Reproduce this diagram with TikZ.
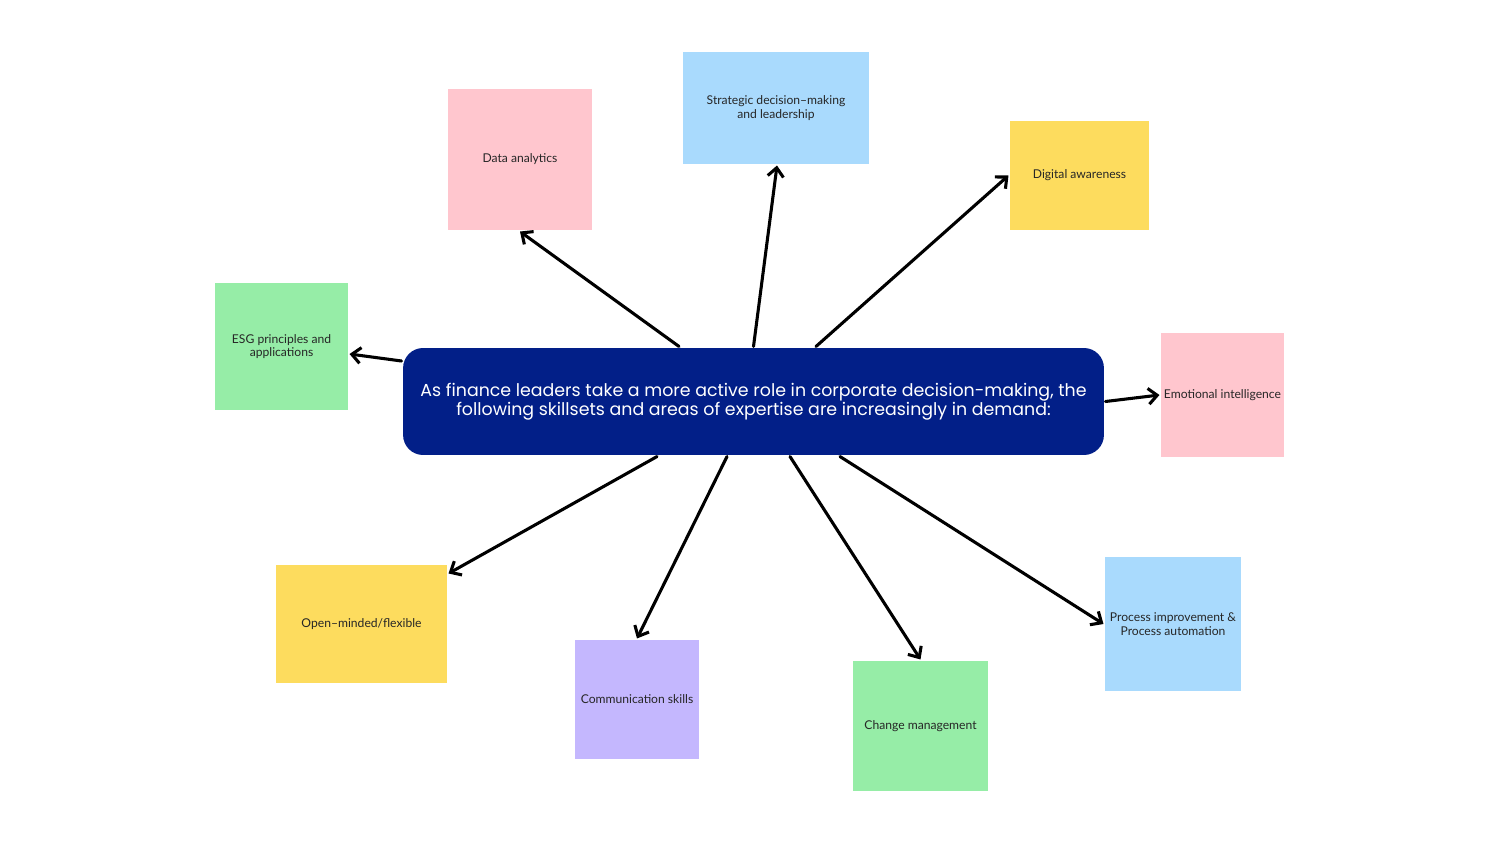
\documentclass[tikz,border=0pt]{standalone}
\usepackage{fontspec}
\setmainfont{Poppins}
\newfontfamily\notefont{Lato}
\usetikzlibrary{arrows.meta}
\definecolor{navy}{HTML}{021F88}
\definecolor{pinknote}{HTML}{FFC6CE}
\definecolor{bluenote}{HTML}{A9DAFD}
\definecolor{yellownote}{HTML}{FDDC5E}
\definecolor{greennote}{HTML}{96EDA7}
\definecolor{purplenote}{HTML}{C4B7FE}
\begin{document}
\begin{tikzpicture}[x=0.02cm,y=-0.02cm,line width=1.75pt,line join=round,line cap=round,
		>={Straight Barb[length=5pt,width=9pt]},
		note/.style={inner sep=0pt,align=center,text=black!85,font=\notefont\fontsize{6.9}{7.7}\selectfont},
		lead/.style={rounded corners=0.4cm,fill=navy,text=white,align=center,inner sep=0pt,
			minimum width=14.02cm,minimum height=2.14cm,font=\fontsize{9.9}{11}\selectfont}]
	\useasboundingbox (0,0) rectangle (1500,844);
	% centre
	\node[lead] (ctr) at (753.5,401.5) {As finance leaders take a more active role in corporate decision-making, the\\following skillsets and areas of expertise are increasingly in demand:};
	% notes
	\node[note,fill=pinknote,minimum width=2.88cm,minimum height=2.82cm] (data) at (520,159.5) {Data analytics};
	\node[note,fill=bluenote,minimum width=3.72cm,minimum height=2.24cm] (strat) at (776,108) {Strategic decision–making\\and leadership};
	\node[note,fill=yellownote,minimum width=2.78cm,minimum height=2.18cm] (dig) at (1079.5,175.5) {Digital awareness};
	\node[note,fill=greennote,minimum width=2.66cm,minimum height=2.54cm] (esg) at (281.5,346.5) {ESG principles and\\applications};
	\node[note,fill=pinknote,minimum width=2.46cm,minimum height=2.48cm] (emo) at (1222.5,395) {Emotional intelligence};
	\node[note,fill=yellownote,minimum width=3.42cm,minimum height=2.36cm] (open) at (361.5,624) {Open–minded/flexible};
	\node[note,fill=purplenote,minimum width=2.48cm,minimum height=2.38cm] (comm) at (637,699.5) {Communication skills};
	\node[note,fill=greennote,minimum width=2.7cm,minimum height=2.6cm] (chg) at (920.5,726) {Change management};
	\node[note,fill=bluenote,minimum width=2.72cm,minimum height=2.68cm] (proc) at (1173,624) {Process improvement \&\\Process automation};
	% arrows
	\draw[->] ([xshift=-1.49cm]ctr.north) -- (data.south);
	\draw[->] (ctr.north) -- ([xshift=0.02cm]strat.south);
	\draw[->] ([xshift=1.25cm]ctr.north) -- (dig.west);
	\draw[->] ([yshift=0.81cm]ctr.west) -- ([yshift=-0.15cm]esg.east);
	\draw[->] (ctr.east) -- (emo.west);
	\draw[->] ([xshift=-1.93cm]ctr.south) -- ([yshift=-0.2cm]open.north east);
	\draw[->] ([xshift=-0.53cm]ctr.south) -- (comm.north);
	\draw[->] ([xshift=0.73cm]ctr.south) -- (chg.north);
	\draw[->] ([xshift=1.73cm]ctr.south) -- (proc.west);
\end{tikzpicture}
\end{document}
